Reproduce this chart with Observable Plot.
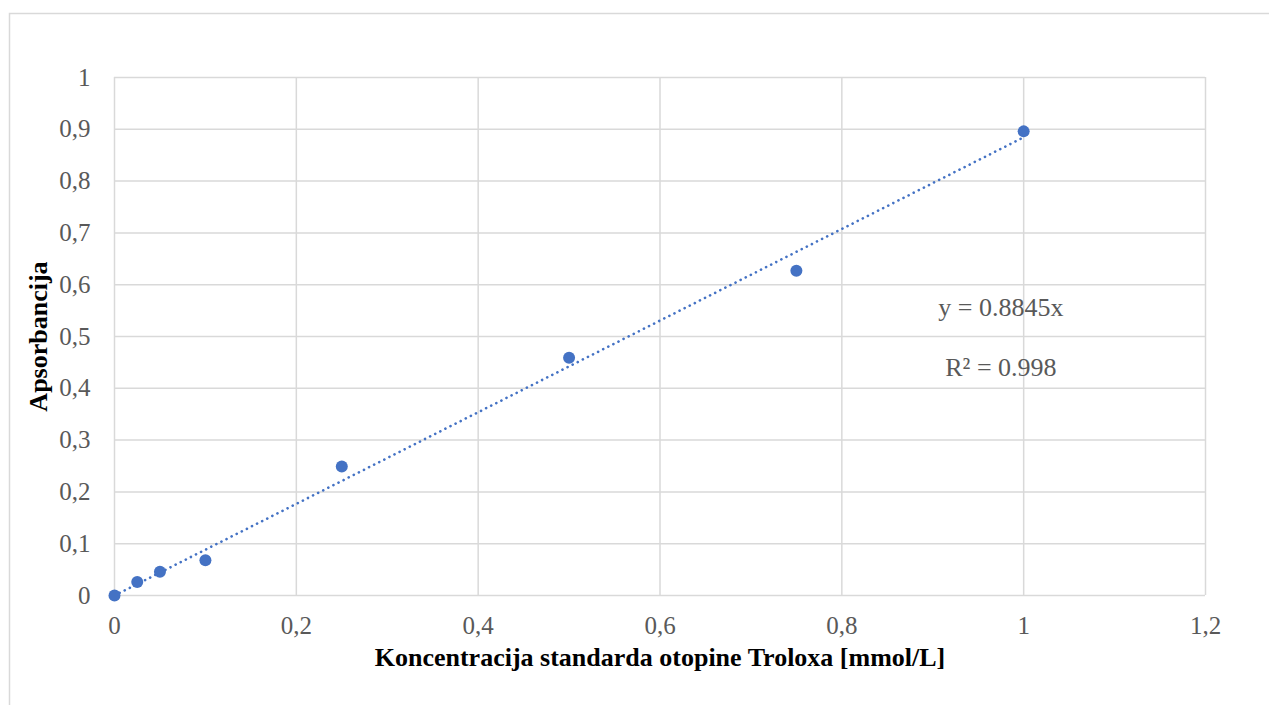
<!DOCTYPE html>
<html>
<head>
<meta charset="utf-8">
<script src="https://cdn.jsdelivr.net/npm/d3@7"></script>
<script src="https://cdn.jsdelivr.net/npm/@observablehq/plot@0.6"></script>
<style>
  html, body { margin: 0; padding: 0; background: #fff; }
  #chart { width: 1269px; height: 705px; overflow: hidden; }
</style>
</head>
<body>
<div id="chart"></div>
<script>
// Data
const concentration = [0, 0.025, 0.05, 0.1, 0.25, 0.5, 0.75, 1];
const absorbance    = [0, 0.026, 0.046, 0.068, 0.249, 0.459, 0.627, 0.896];
const slope = 0.8845;
const trendX = [0, 1];
const xTicks = [0, 0.2, 0.4, 0.6, 0.8, 1, 1.2];
const yTicks = [0, 0.1, 0.2, 0.3, 0.4, 0.5, 0.6, 0.7, 0.8, 0.9, 1];
const equationLabels = ["y = 0.8845x", "R² = 0.998"];
const equationX = [0.975, 0.975];
const equationY = [0.556, 0.440];
const xTitle = "Koncentracija standarda otopine Troloxa [mmol/L]";
const yTitle = "Apsorbancija";

const points = concentration.map((c, i) => ({x: c, y: absorbance[i]}));
const trend = trendX.map(x => ({x, y: slope * x}));
const eqs = equationLabels.map((t, i) => ({t, x: equationX[i], y: equationY[i]}));
const fmt = d => String(d).replace(".", ",");

const blue = "#4472C4";
const grid = "#d9d9d9";
const tickColor = "#595959";
const serif = "'Liberation Serif', 'Times New Roman', serif";

const chart = Plot.plot({
  width: 1269,
  height: 705,
  marginLeft: 114,
  marginRight: 64,
  marginTop: 77,
  marginBottom: 110,
  style: {fontFamily: serif, fontSize: "24px", background: "#fff", overflow: "visible"},
  x: {domain: [0, 1.2], ticks: xTicks, tickFormat: fmt, label: null},
  y: {domain: [0, 1], ticks: yTicks, tickFormat: fmt, label: null},
  marks: [
    Plot.gridX(xTicks, {stroke: grid, strokeOpacity: 1, strokeWidth: 1.5}),
    Plot.gridY(yTicks, {stroke: grid, strokeOpacity: 1, strokeWidth: 1.5}),
    Plot.axisX(xTicks, {tickSize: 0, tickPadding: 21, tickFormat: fmt, fill: tickColor, fontSize: 25, fontFamily: serif, label: null}),
    Plot.axisY(yTicks, {tickSize: 0, tickPadding: 24, tickFormat: fmt, fill: tickColor, fontSize: 25, fontFamily: serif, label: null}),
    Plot.line(trend, {x: "x", y: "y", stroke: blue, strokeWidth: 2.6, strokeLinecap: "round", strokeDasharray: "0.1 5.6"}),
    Plot.dot(points, {x: "x", y: "y", r: 6, fill: blue, stroke: "none"}),
    Plot.text(eqs, {x: "x", y: "y", text: "t", fill: tickColor, fontSize: 26, fontFamily: serif, textAnchor: "middle"}),
    Plot.text([xTitle], {frameAnchor: "bottom", dy: 70, text: d => d, textAnchor: "middle", fontWeight: "bold", fontSize: 26, fontFamily: serif, fill: "#000"}),
    Plot.text([yTitle], {frameAnchor: "left", dx: -76, rotate: -90, text: d => d, textAnchor: "middle", fontWeight: "bold", fontSize: 26, fontFamily: serif, fill: "#000"})
  ]
});

// outer chart-area border (light gray)
d3.select(chart).insert("rect", ":first-child")
  .attr("x", 9.5).attr("y", 13.5).attr("width", 1400).attr("height", 900)
  .attr("fill", "#fff").attr("stroke", grid).attr("stroke-width", 1.5);

document.getElementById("chart").appendChild(chart);
</script>
</body>
</html>
